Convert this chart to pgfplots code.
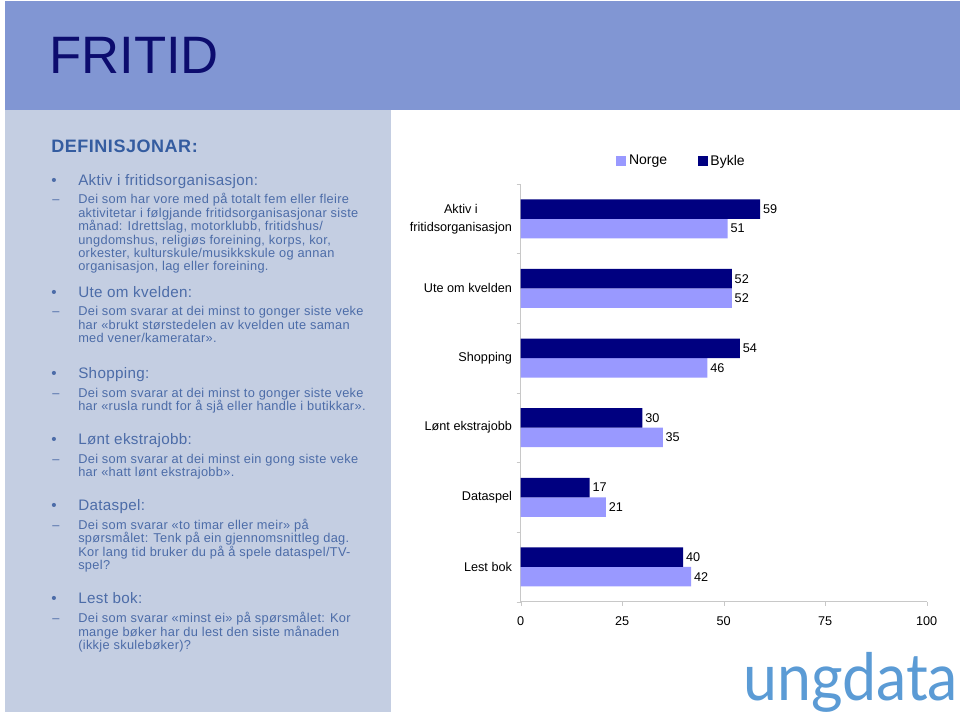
\documentclass[border=0pt]{standalone}
\usepackage{fontspec}
\setmainfont{Liberation Sans}
\usepackage{pgfplots}
\pgfplotsset{compat=1.18}
\newfontfamily\logofont{Lato}
\definecolor{band}{RGB}{129,150,211}
\definecolor{panel}{RGB}{196,206,226}
\definecolor{titlec}{RGB}{12,12,110}
\definecolor{headc}{RGB}{52,92,160}
\definecolor{bodyc}{RGB}{76,108,168}
\definecolor{norge}{RGB}{153,153,255}
\definecolor{bykle}{RGB}{0,0,128}
\definecolor{axisc}{RGB}{200,200,200}
\definecolor{logoc}{RGB}{91,155,213}
\newcommand{\bodyfont}{\fontsize{9.6}{10}\selectfont\addfontfeature{LetterSpace=2.5}}
\newcommand{\headfont}{\fontsize{11.4}{12}\selectfont\addfontfeature{LetterSpace=2.2}}
\newcommand{\bl}[2]{\node[anchor=base west, inner sep=0, font=\bodyfont, text=bodyc] at (78,#1) {#2};}
\newcommand{\dl}[2]{\node[anchor=base west, inner sep=0, font=\bodyfont, text=bodyc] at (52,#1) {–};\bl{#1}{#2}}
\newcommand{\hd}[2]{\node[anchor=base west, inner sep=0, font=\headfont, text=bodyc] at (78,#1) {#2};\node[anchor=base west, inner sep=0, font=\headfont, text=bodyc] at (51,#1) {•};}
\begin{document}
\begin{tikzpicture}
\useasboundingbox (0,0) rectangle (720pt,-537pt);
\fill[white] (0,0) rectangle (720pt,-537pt);
\begin{scope}[x=0.75pt,y=-0.75pt]
\fill[band] (5,1) rectangle (960,110);
\fill[panel] (5,110) rectangle (390.5,712);
\node[anchor=base west, inner sep=0, font=\fontsize{39.5}{44}\selectfont, text=titlec] at (49,74) {FRITID};
\node[anchor=base west, inner sep=0, font=\fontsize{13.5}{15}\selectfont\bfseries\addfontfeature{LetterSpace=3}, text=headc] at (51,152.7) {DEFINISJONAR:};
\hd{185.3}{Aktiv i fritidsorganisasjon:}
\dl{204}{Dei som har vore med på totalt fem eller fleire}
\bl{217.4}{aktivitetar i følgjande fritidsorganisasjonar siste}
\bl{230.8}{månad: Idrettslag, motorklubb, fritidshus/}
\bl{244.2}{ungdomshus, religiøs foreining, korps, kor,}
\bl{257.6}{orkester, kulturskule/musikkskule og annan}
\bl{271}{organisasjon, lag eller foreining.}
\hd{297.3}{Ute om kvelden:}
\dl{316}{Dei som svarar at dei minst to gonger siste veke}
\bl{329.4}{har «brukt størstedelen av kvelden ute saman}
\bl{342.8}{med vener/kameratar».}
\hd{378.3}{Shopping:}
\dl{397.3}{Dei som svarar at dei minst to gonger siste veke}
\bl{410.7}{har «rusla rundt for å sjå eller handle i butikkar».}
\hd{444.3}{Lønt ekstrajobb:}
\dl{463.3}{Dei som svarar at dei minst ein gong siste veke}
\bl{476.7}{har «hatt lønt ekstrajobb».}
\hd{510}{Dataspel:}
\dl{529.3}{Dei som svarar «to timar eller meir» på}
\bl{542.7}{spørsmålet: Tenk på ein gjennomsnittleg dag.}
\bl{556}{Kor lang tid bruker du på å spele dataspel/TV-}
\bl{569.3}{spel?}
\hd{603.3}{Lest bok:}
\dl{622.7}{Dei som svarar «minst ei» på spørsmålet: Kor}
\bl{636}{mange bøker har du lest den siste månaden}
\bl{649.3}{(ikkje skulebøker)?}
\node[anchor=base west, inner sep=0, text=logoc, font=\logofont\fontsize{49}{54}\selectfont] at (743,700) {\scalebox{0.93}[1]{ungdata}};
\end{scope}
\begin{axis}[
  at={(390.5pt,-451.3pt)}, anchor=south west,
  scale only axis, width=304.5pt, height=313.3pt,
  xmin=0, xmax=100, ymin=-0.5, ymax=5.5,
  xbar, bar width=0.28,
  axis lines*=left,
  axis line style={draw=axisc, -},
  xtick={0,25,50,75,100},
  tick align=outside,
  major tick length=3pt, minor tick length=3pt,
  x tick style={draw=axisc},
  ytick={0,...,5},
  yticklabels={Lest bok, Dataspel, Lønt ekstrajobb, Shopping, Ute om kvelden, {Aktiv i\\fritidsorganisasjon}},
  major y tick style={draw=none},
  minor ytick={-0.5,0.5,1.5,2.5,3.5,4.5,5.5},
  minor y tick style={draw=axisc},
  tick label style={font=\fontsize{9.5}{11}\selectfont},
  yticklabel style={align=center, font=\fontsize{9.5}{13.5}\selectfont},
  xticklabel style={yshift=-4.5pt},
  /pgf/number format/assume math mode=true,
  nodes near coords,
  nodes near coords style={font=\fontsize{9.5}{11}\selectfont, text=black, anchor=west, inner sep=2pt},
  legend style={draw=none, fill=none, legend columns=2, at={(0.235,1.055)}, anchor=west, inner xsep=0pt,
    font=\fontsize{10.5}{12}\selectfont, /tikz/every even column/.append style={column sep=21pt}},
  legend image code/.code={\fill[#1] (0pt,-3.75pt) rectangle (7.5pt,3.75pt);},
  enlargelimits=false,
  clip=false,
]
\addplot[fill=norge, draw=none, bar shift=-0.14] coordinates {(42,0) (21,1) (35,2) (46,3) (52,4) (51,5)};
\addplot[fill=bykle, draw=none, bar shift=0.14] coordinates {(40,0) (17,1) (30,2) (54,3) (52,4) (59,5)};
\legend{Norge, Bykle}
\end{axis}
\end{tikzpicture}
\end{document}
